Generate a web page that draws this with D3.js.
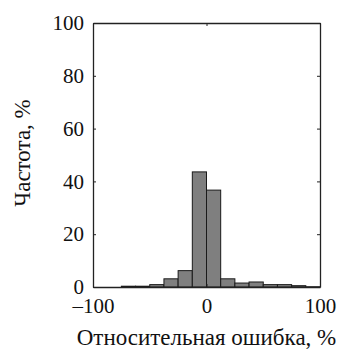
<!DOCTYPE html>
<html>
<head>
<meta charset="utf-8">
<script src="https://cdn.jsdelivr.net/npm/d3@7"></script>
<style>
  body { margin: 0; background: #fff; }
  text { font-family: "Liberation Serif", "Times New Roman", serif; fill: #111; }
</style>
</head>
<body>
<div id="chart"></div>
<script>
// bin edges (%), 12.5 wide, and frequency per bin (%)
var binStarts = [-100, -87.5, -75, -62.5, -50, -37.5, -25, -12.5, 0, 12.5, 25, 37.5, 50, 62.5, 75, 87.5];
var binWidth = 12.5;
var freq = [0, 0, 0.3, 0.3, 0.9, 3.1, 6.2, 43.6, 36.7, 3.1, 1.5, 1.9, 0.9, 0.9, 0.5, 0.1];
var xTicks = [-100, 0, 100];
var yTicks = [0, 20, 40, 60, 80, 100];

var svgWidth = 342;
var svgHeight = 352;
var margin = { top: 23, right: 22, bottom: 65, left: 93 };
var width = svgWidth - margin.left - margin.right;
var height = svgHeight - margin.top - margin.bottom;

var svg = d3.select("#chart")
  .append("svg")
  .attr("width", svgWidth)
  .attr("height", svgHeight);

var chartGroup = svg.append("g")
  .attr("transform", `translate(${margin.left}, ${margin.top})`);

var x = d3.scaleLinear().domain([-100, 100]).range([0, width]);
var y = d3.scaleLinear().domain([0, 100]).range([height, 0]);

var data = binStarts.map((b, i) => ({ x0: b, x1: b + binWidth, v: freq[i] }));

// bars
chartGroup.selectAll("rect.bar")
  .data(data)
  .enter()
  .append("rect")
  .attr("class", "bar")
  .attr("x", d => x(d.x0))
  .attr("width", d => x(d.x1) - x(d.x0))
  .attr("y", d => y(d.v))
  .attr("height", d => y(0) - y(d.v))
  .attr("fill", "#7f7f7f")
  .attr("stroke", "#1a1a1a")
  .attr("stroke-width", 1);

// axes, ticks pointing inward, on all four sides
var tickFmt = d => d < 0 ? "\u2013" + Math.abs(d) : d;

chartGroup.append("g")
  .attr("transform", `translate(0, ${height})`)
  .call(d3.axisBottom(x).tickValues(xTicks).tickSizeInner(-3).tickSizeOuter(0).tickPadding(11).tickFormat(tickFmt));

chartGroup.append("g")
  .call(d3.axisTop(x).tickValues(xTicks).tickSizeInner(-3).tickSizeOuter(0).tickFormat(""));

chartGroup.append("g")
  .call(d3.axisLeft(y).tickValues(yTicks).tickSizeInner(-3).tickSizeOuter(0).tickPadding(9));

chartGroup.append("g")
  .attr("transform", `translate(${width}, 0)`)
  .call(d3.axisRight(y).tickValues(yTicks).tickSizeInner(-3).tickSizeOuter(0).tickFormat(""));

chartGroup.selectAll(".domain").attr("stroke", "#222").attr("stroke-width", 1.3);
chartGroup.selectAll(".tick line").attr("stroke", "#222");
chartGroup.selectAll(".tick text")
  .attr("font-family", "Liberation Serif, serif")
  .attr("font-size", "21px")
  .attr("fill", "#111");

// axis labels
chartGroup.append("text")
  .attr("transform", "rotate(-90)")
  .attr("x", -height / 2 + 2)
  .attr("y", -margin.left + 30)
  .attr("text-anchor", "middle")
  .attr("font-size", "23px")
  .text("Частота, %");

chartGroup.append("text")
  .attr("x", width / 2)
  .attr("y", height + 58)
  .attr("text-anchor", "middle")
  .attr("font-size", "23px")
  .text("Относительная ошибка, %");
</script>
</body>
</html>
